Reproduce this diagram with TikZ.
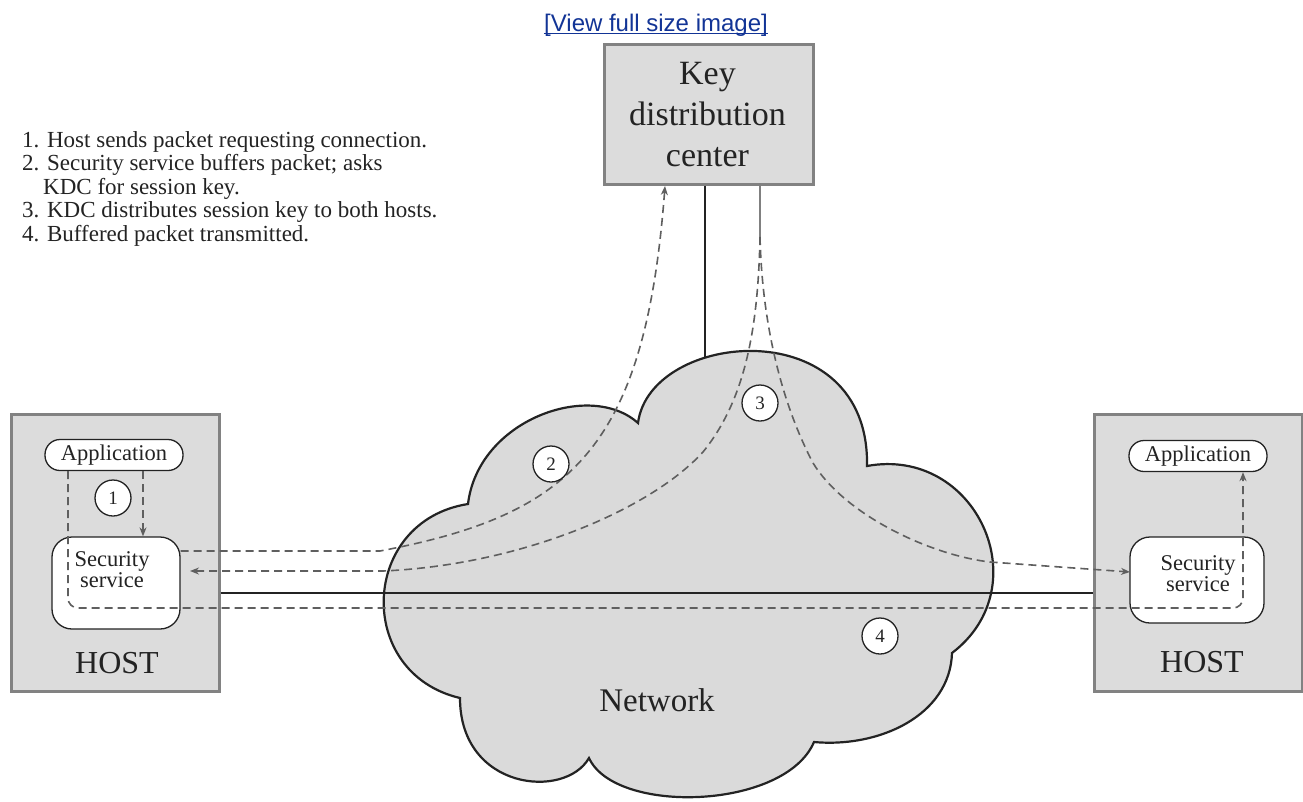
\documentclass[tikz,border=0pt]{standalone}
\usepackage{fontspec}
\setmainfont{Liberation Serif}
\newfontfamily\linkfont{Liberation Sans}
\usetikzlibrary{arrows.meta}
\definecolor{boxgray}{RGB}{220,220,220}
\definecolor{edgegray}{RGB}{130,130,130}
\definecolor{dashgray}{RGB}{95,95,95}
\definecolor{linkblue}{RGB}{18,52,150}
\definecolor{cloudfill}{RGB}{218,218,218}
\definecolor{inkgray}{RGB}{35,35,35}
\begin{document}
\begin{tikzpicture}[x=1pt,y=-1pt,
  hostbox/.style={draw=edgegray,line width=2.5pt,fill=boxgray,inner sep=0pt},
  kdcbox/.style={draw=edgegray,line width=2.5pt,fill=boxgray,inner sep=0pt},
  appbox/.style={draw=inkgray,line width=1.3pt,fill=white,rounded corners=15pt,minimum width=138pt,minimum height=31pt,inner sep=0pt,font=\fontsize{22.5}{24}\selectfont,text=inkgray},
  secbox/.style={draw=inkgray,line width=1.3pt,fill=white,rounded corners=20pt,inner sep=0pt},
  sectext/.style={align=center,font=\fontsize{22.5}{21}\selectfont,inner sep=0pt,text=inkgray},
  hosttext/.style={font=\fontsize{32}{36}\selectfont,inner sep=0pt,text=inkgray},
  numcirc/.style={circle,draw=inkgray,line width=1.3pt,fill=white,minimum size=36pt,inner sep=0pt,font=\fontsize{19}{20}\selectfont,text=inkgray},
  dashline/.style={draw=dashgray,line width=1.6pt,dash pattern=on 8pt off 5pt},
  arrowend/.style={-{Stealth[length=9pt,width=7pt]}},
  netline/.style={draw=inkgray,line width=2.6pt},
  thinline/.style={draw=gray,line width=1.5pt},
  listtext/.style={anchor=base west,inner sep=0pt,font=\fontsize{23}{24}\selectfont,text=inkgray},
]
\useasboundingbox (0,0) rectangle (1303,801);
\fill[white] (0,0) rectangle (1303,801);

% link
\node[anchor=base,inner sep=0pt,font=\linkfont\fontsize{24}{28}\selectfont,text=linkblue] (link) at (656,31) {[View full size image]};
\draw[linkblue,line width=1.4pt] ([yshift=-2.5pt]link.base west) -- ([yshift=-2.5pt]link.base east);

% list
\node[listtext] (l1) at (22,147) {1. Host sends packet requesting connection.};
\node[listtext] (l2) at (22,170.5) {2. Security service buffers packet; asks};
\node[listtext] (l3) at (43,194) {KDC for session key.};
\node[listtext] (l4) at (22,217.5) {3. KDC distributes session key to both hosts.};
\node[listtext] (l5) at (22,241) {4. Buffered packet transmitted.};

% boxes
\node[hostbox,minimum width=208pt,minimum height=277pt,anchor=north west] (lhost) at (10,413) {};
\node[hostbox,minimum width=208pt,minimum height=277pt,anchor=north west] (rhost) at (1093,413) {};
\node[kdcbox,minimum width=209pt,minimum height=140pt,anchor=north west] (kdc) at (603,43) {};
\node[align=center,font=\fontsize{34}{41}\selectfont,text=inkgray,inner sep=0pt] (kdclabel) at (707.5,115) {Key\\distribution\\center};

% KDC to network
\coordinate (kdcnet) at (705,380);
\draw[netline] (kdc.south -| kdcnet) -- (kdcnet);

% cloud
\filldraw[fill=cloudfill,draw=inkgray,line width=2.2pt]
  (468,504) .. controls (478,420) and (590,380) .. (638,423)
  .. controls (650,330) and (870,310) .. (867,466)
  .. controls (976,446) and (1040,586) .. (952,653)
  .. controls (950,715) and (880,748) .. (814,742)
  .. controls (785,810) and (615,815) .. (589,758)
  .. controls (565,800) and (460,790) .. (460,698)
  .. controls (354,673) and (360,521) .. (468,504) -- cycle;
\node[font=\fontsize{33}{36}\selectfont,text=inkgray,inner sep=0pt] (net) at (657,700) {Network};

% host internals
\node[appbox] (lapp) at (114,455) {Application};
\node[appbox] (rapp) at (1198,456) {Application};
\node[secbox,minimum width=128pt,minimum height=92pt] (lsec) at (116,583) {};
\node[secbox,minimum width=134pt,minimum height=86pt] (rsec) at (1197,580) {};
\node[sectext] (lsect) at (112,570) {Security\\service};
\node[sectext] (rsect) at (1198,574) {Security\\service};
\node[hosttext] (lhostt) at (117,663) {HOST};
\node[hosttext] (rhostt) at (1202,662) {HOST};

% network line
\coordinate (hl) at (400,593);
\draw[netline] (lhost.east |- hl) -- (rhost.west |- hl);

% path 1
\coordinate (p1x) at (143,500);
\draw[dashline,arrowend] (lapp.south -| p1x) -- (lsec.north -| p1x);

% path 4
\coordinate (p4a) at (68,608);
\coordinate (p4b) at (1243,608);
\draw[dashline,arrowend,rounded corners=10pt] (lapp.south -| p4a) -- (p4a) -- (p4b) -- (rapp.south -| p4b);

% path 2
\coordinate (p2a) at (380,551);
\coordinate (kdc2) at (665,186);
\draw[dashline,arrowend] (lsec.east |- p2a) -- (p2a) .. controls (570,515) and (645,450) .. (kdc2);

% path 3
\coordinate (kdc3) at (760,183);
\coordinate (split) at (760,237);
\coordinate (p3l1) at (703,452);
\coordinate (p3l2) at (383,571);
\coordinate (p3lend) at (190,571);
\coordinate (p3r1) at (813,463);
\coordinate (p3r2) at (990,562);
\coordinate (p3rend) at (1130,572);
\draw[thinline] (kdc3) -- (split);
\draw[dashline,arrowend] (split) .. controls (758,330) and (745,400) .. (p3l1)
  .. controls (650,510) and (520,565) .. (p3l2) -- (p3lend);
\draw[dashline,arrowend] (split) .. controls (762,320) and (780,400) .. (p3r1)
  .. controls (845,515) and (930,555) .. (p3r2) -- (p3rend);

% number circles
\node[numcirc] (c1) at (113,498) {1};
\node[numcirc] (c2) at (551,464) {2};
\node[numcirc] (c3) at (760,403) {3};
\node[numcirc] (c4) at (880,636) {4};
\end{tikzpicture}
\end{document}
